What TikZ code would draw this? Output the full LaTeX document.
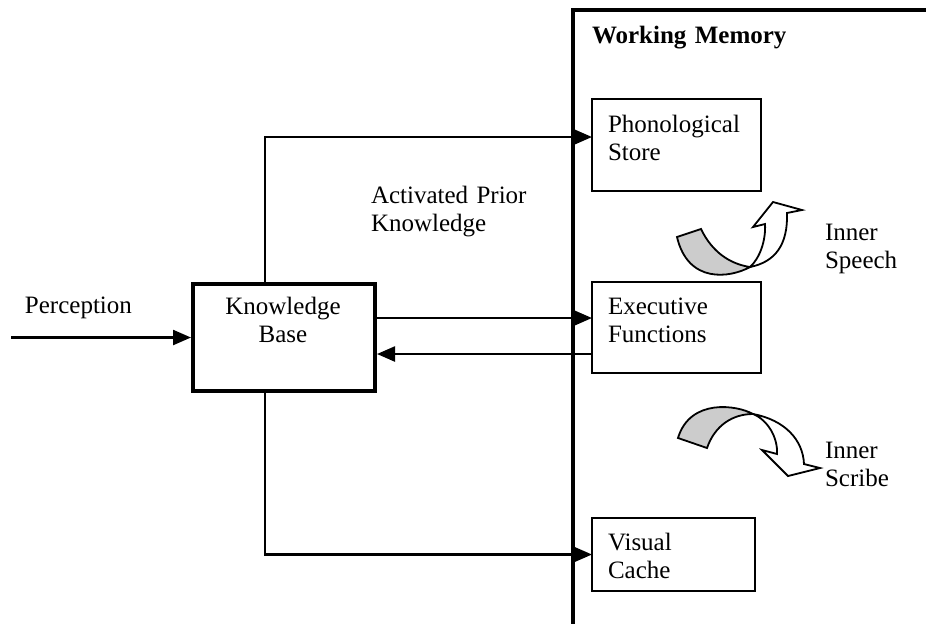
\documentclass[tikz,border=0pt]{standalone}
\usepackage{fontspec}
\setmainfont{Liberation Serif}
\usetikzlibrary{arrows.meta}
\begin{document}
\begin{tikzpicture}[x=0.5pt, y=-0.5pt,
  font=\fontsize{12.5pt}{14.4pt}\selectfont,
  box/.style={draw, rectangle, line width=1.1pt, inner sep=0pt, outer sep=0pt, anchor=north west},
  kbbox/.style={box, line width=2pt, outer sep=1pt},
  lbl/.style={inner sep=0pt, outer sep=0pt, anchor=base west, align=left, text width=110pt},
  conn/.style={line width=1.2pt},
  arr/.style={conn, -{Triangle[length=9pt,width=7.5pt]}},
  frame/.style={line width=1.7pt},
  ribbon/.style={line width=0.9pt, line join=miter},
]
\useasboundingbox (0,0) rectangle (926,623);
\fill[white] (0,0) rectangle (926,623);

% Working memory frame
\draw[frame] (573,630) -- (573,10) -- (935,10);
\node[lbl, font=\fontsize{12.5pt}{14.4pt}\selectfont\bfseries] (wmtitle) at (592,43) {Working Memory};

% Boxes
\node[kbbox, minimum width=91pt, minimum height=53.5pt] (kb) at (191,282) {};
\node[box, minimum width=84.5pt, minimum height=46pt] (phon) at (592,99) {};
\node[box, minimum width=84.5pt, minimum height=45.5pt] (exec) at (592,282) {};
\node[box, minimum width=81.5pt, minimum height=36.5pt] (vis) at (592,518) {};

% Box texts
\node[inner sep=0pt, anchor=base, align=center, text width=100pt] (kbtext) at (283,314) {Knowledge\\Base};
\node[lbl] (phontext) at (608,132) {Phonological\\Store};
\node[lbl] (exectext) at (608,314) {Executive\\Functions};
\node[lbl] (vistext) at (608,550) {Visual\\Cache};

% Free labels
\node[lbl] (perc) at (25,313) {Perception};
\node[lbl] (apk) at (371,203) {Activated Prior\\Knowledge};
\node[lbl] (speech) at (825,240) {Inner\\Speech};
\node[lbl] (scribe) at (825,458) {Inner\\Scribe};

% Connectors
\coordinate (branch) at (265,0);
\coordinate (fwd) at (0,318);
\coordinate (bck) at (0,354);
\coordinate (pin) at (11,0);
\draw[arr] (kb.west -| pin) -- (kb.west);
\draw[arr] (kb.north -| branch) |- ([yshift=4pt]phon.west);
\draw[arr] (kb.east |- fwd) -- (exec.west |- fwd);
\draw[arr] (exec.west |- bck) -- (kb.east |- bck);
\draw[arr] (kb.south -| branch) |- (vis.west);

% Inner speech: twisted ribbon arrow pointing up
\filldraw[ribbon, fill=black!20] (677,237) -- (701,229)
  .. controls (712,252) and (730,264) .. (750,267)
  .. controls (730,278) and (688,284) .. (677,237) -- cycle;
\filldraw[ribbon, fill=white] (750,267)
  .. controls (775,262) and (788,245) .. (787,213)
  -- (802,210) -- (773,202) -- (753,227) -- (765,224)
  .. controls (766,240) and (760,258) .. (750,267) -- cycle;

% Inner scribe: twisted ribbon arrow pointing down
\filldraw[ribbon, fill=black!20] (678,438) -- (707,448)
  .. controls (715,425) and (733,414) .. (753,414)
  .. controls (737,405) and (690,398) .. (678,438) -- cycle;
\filldraw[ribbon, fill=white] (753,414)
  .. controls (785,420) and (803,440) .. (804,464)
  -- (820,468) -- (788,476) -- (762,450) -- (777,454)
  .. controls (778,438) and (768,420) .. (753,414) -- cycle;
\end{tikzpicture}
\end{document}
